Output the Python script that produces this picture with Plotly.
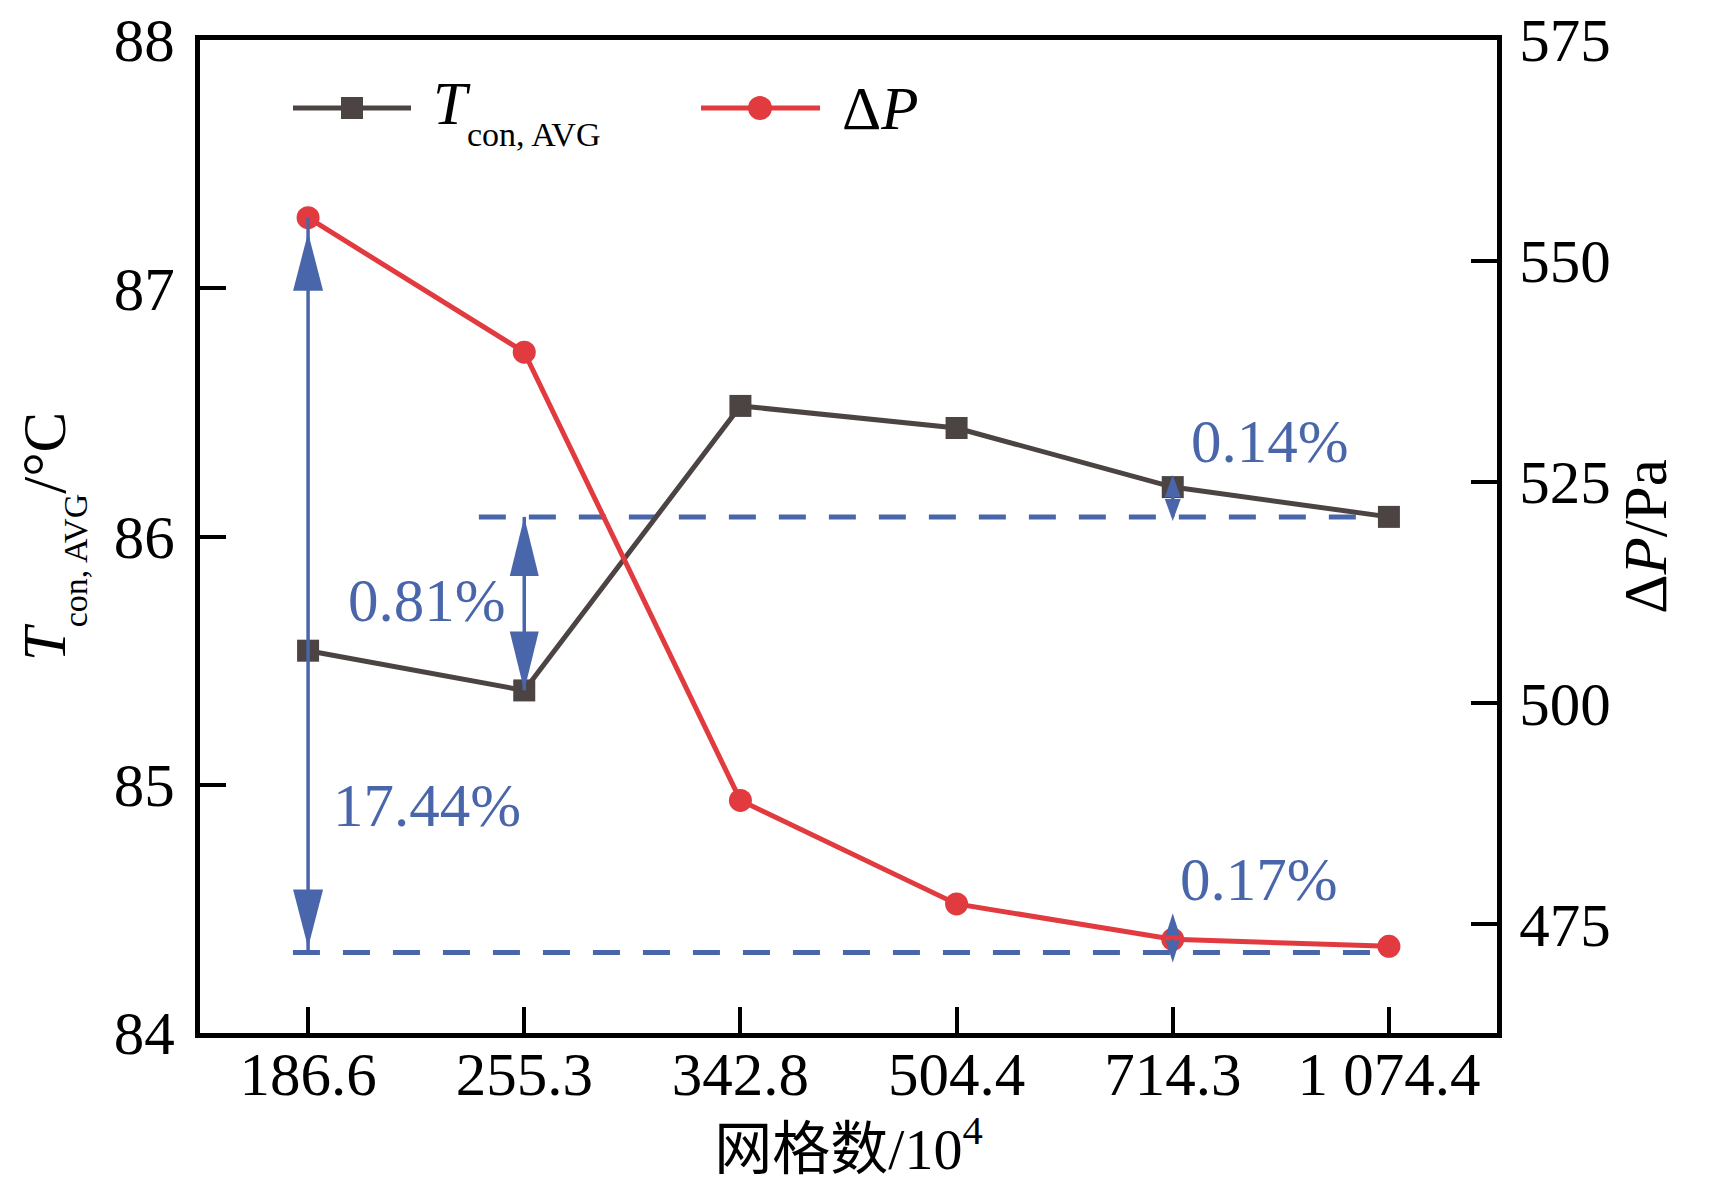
import plotly.graph_objects as go

# ---------------- data ----------------
mesh_labels = ["186.6", "255.3", "342.8", "504.4", "714.3", "1 074.4"]
t_con_avg = [85.54, 85.38, 86.526, 86.437, 86.199, 86.079]   # left axis, deg C
delta_p = [554.9, 539.7, 489.0, 477.3, 473.3, 472.5]          # right axis, Pa
pct_labels = ["17.44%", "0.81%", "0.14%", "0.17%"]
t_ref = t_con_avg[-1]      # upper dashed reference level (left axis)
p_ref = 471.8              # lower dashed reference level (right axis)

left_ticks = [84, 85, 86, 87, 88]
right_ticks = [475, 500, 525, 550, 575]

# ---------------- style ----------------
OFF = 8                      # page body margin
W, H = 1714 - OFF, 1194 - OFF
ML, MR, MT, MB = 192, 217, 32, 161
DARK = "#4b4442"
RED = "#e13a3f"
BLUE = "#4a66ab"
FONT = "Liberation Serif, Times New Roman, Noto Sans CJK SC, serif"
FS = 61
SUB = "<sub><sub><span style='font-size:34px'>con, AVG</span></sub></sub>"

xs = list(range(len(mesh_labels)))
PW = W - ML - MR
PH = H - MT - MB


def px_x(px):
    return (px - OFF - ML) / PW


def px_y(py):
    return (OFF + H - MB - py) / PH


fig = go.Figure()
fig.add_trace(go.Scatter(
    x=xs, y=t_con_avg, mode="lines+markers", name="T",
    line=dict(color=DARK, width=5),
    marker=dict(symbol="square", size=22, color=DARK),
    showlegend=False, yaxis="y"))
fig.add_trace(go.Scatter(
    x=xs, y=delta_p, mode="lines+markers", name="dP",
    line=dict(color=RED, width=5),
    marker=dict(symbol="circle", size=23, color=RED),
    showlegend=False, yaxis="y2"))

shapes = []
DASH = dict(color=BLUE, width=5, dash="27px,23px")
# dashed reference lines
shapes.append(dict(type="line", xref="x", yref="y", x0=0.79, x1=5.04, y0=t_ref, y1=t_ref,
                   line=DASH, layer="below"))
shapes.append(dict(type="line", xref="x", yref="y2", x0=-0.07, x1=4.95, y0=p_ref, y1=p_ref,
                   line=DASH, layer="below"))


def shaft(x, y0, y1, yref):
    shapes.append(dict(type="line", xref="x", yref=yref, x0=x, x1=x, y0=y0, y1=y1,
                       line=dict(color=BLUE, width=3.5), layer="above"))


def head(x, y, yref, tip, base, half):
    # tip / base are pixel offsets (positive = up) relative to the data anchor
    path = f"M0,{tip} L{-half},{base} L{half},{base} Z"
    shapes.append(dict(type="path", xref="x", yref=yref, xsizemode="pixel", ysizemode="pixel",
                       xanchor=x, yanchor=y, path=path, fillcolor=BLUE,
                       line=dict(width=0), layer="above"))


# big arrow at first mesh (pressure drop span)
shaft(xs[0], delta_p[0], p_ref, "y2")
head(xs[0], delta_p[0], "y2", -15, -73, 15)
head(xs[0], p_ref, "y2", 5, 63, 15)
# arrow at second mesh (temperature span)
shaft(xs[1], t_con_avg[1], t_ref, "y")
head(xs[1], t_ref, "y", 0, -59, 14.5)
head(xs[1], t_con_avg[1], "y", 0, 59, 14.5)
# small arrow at 714.3 (temperature)
shaft(xs[4], t_con_avg[4], t_ref, "y")
head(xs[4], t_con_avg[4], "y", 12, -10, 8)
head(xs[4], t_ref, "y", -4, 18, 8)
# small arrow at 714.3 (pressure)
shaft(xs[4], delta_p[4], p_ref, "y2")
head(xs[4], delta_p[4], "y2", 26, 4, 7)
head(xs[4], p_ref, "y2", -10, 12, 7)

# custom legend symbols
ly = px_y(108)
shapes.append(dict(type="line", xref="paper", yref="paper", x0=px_x(293), x1=px_x(411),
                   y0=ly, y1=ly, line=dict(color=DARK, width=5)))
shapes.append(dict(type="rect", xref="paper", yref="paper", xsizemode="pixel", ysizemode="pixel",
                   xanchor=px_x(352), yanchor=ly, x0=-11, x1=11, y0=-11, y1=11,
                   fillcolor=DARK, line=dict(width=0)))
shapes.append(dict(type="line", xref="paper", yref="paper", x0=px_x(701), x1=px_x(820),
                   y0=ly, y1=ly, line=dict(color=RED, width=5)))
shapes.append(dict(type="circle", xref="paper", yref="paper", xsizemode="pixel", ysizemode="pixel",
                   xanchor=px_x(760), yanchor=ly, x0=-12, x1=12, y0=-12, y1=12,
                   fillcolor=RED, line=dict(width=0)))

annotations = []
pct_pos = [(0.55, 84.918), (0.55, 85.744), (4.45, 86.381), (4.40, 84.62)]
for txt, (ax_, ay_) in zip(pct_labels, pct_pos):
    annotations.append(dict(x=ax_, y=ay_, xref="x", yref="y", text=txt, showarrow=False,
                            font=dict(family=FONT, size=FS, color=BLUE),
                            xanchor="center", yanchor="middle"))
annotations.append(dict(x=px_x(431), y=px_y(112), xref="paper", yref="paper",
                        text="<i>T</i>" + SUB, showarrow=False,
                        font=dict(family=FONT, size=FS, color="black"),
                        xanchor="left", yanchor="middle"))
annotations.append(dict(x=px_x(840), y=px_y(109), xref="paper", yref="paper",
                        text="Δ<i>P</i>", showarrow=False,
                        font=dict(family=FONT, size=FS, color="black"),
                        xanchor="left", yanchor="middle"))

axis_common = dict(showgrid=False, zeroline=False, showline=True, linecolor="black",
                   linewidth=5, ticks="inside", ticklen=26, tickwidth=4, tickcolor="black",
                   ticklabeloverflow="allow", automargin=False,
                   tickfont=dict(family=FONT, size=FS, color="black"))

fig.update_layout(
    width=W, height=H,
    margin=dict(l=ML, r=MR, t=MT, b=MB, autoexpand=False),
    paper_bgcolor="white", plot_bgcolor="white",
    showlegend=False,
    xaxis=dict(**axis_common, range=[-0.5, 5.5], tickvals=xs, ticktext=mesh_labels,
               mirror=True, ticklabelstandoff=-16,
               title=dict(text="网格数/10<sup>4</sup>",
                          font=dict(family=FONT, size=58, color="black"), standoff=14)),
    yaxis=dict(**axis_common, range=[84, 88], tickvals=left_ticks, ticklabelstandoff=8,
               title=dict(text="<i>T</i>" + SUB + "/°C",
                          font=dict(family=FONT, size=FS, color="black"), standoff=30)),
    yaxis2=dict(**axis_common, range=[462.7, 575], tickvals=right_ticks,
                overlaying="y", side="right", ticklabelstandoff=5,
                title=dict(text="Δ<i>P</i>/Pa",
                           font=dict(family=FONT, size=FS, color="black"), standoff=15)),
    shapes=shapes,
    annotations=annotations,
)

fig.write_html("out.html")
